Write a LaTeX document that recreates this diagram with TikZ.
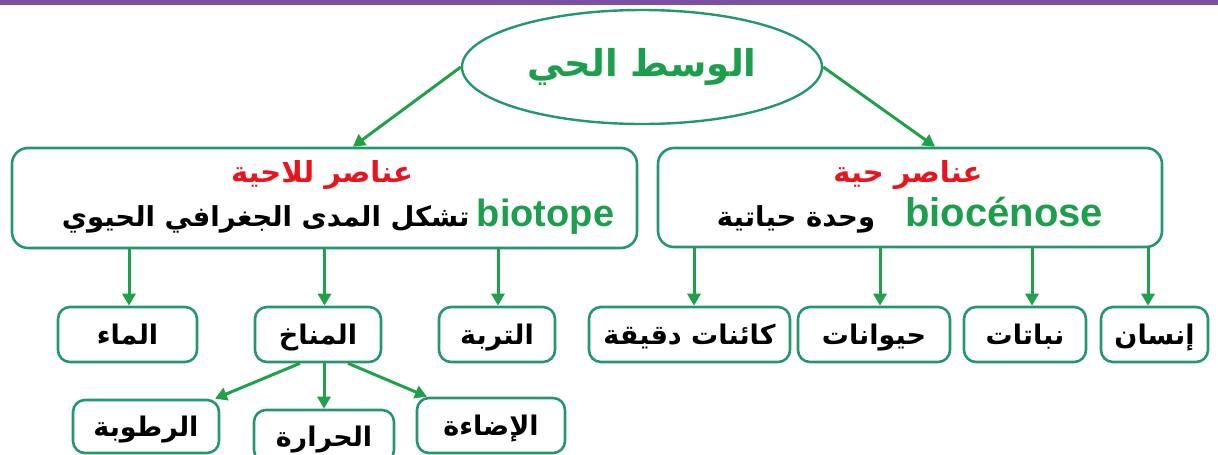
\documentclass[tikz,border=0pt]{standalone}
\usepackage{fontspec}
\setmainfont{Liberation Sans}
\newfontfamily\arfont[Script=Arabic]{DejaVu Sans}
\TeXXeTstate=1
\usetikzlibrary{arrows.meta,shapes.geometric}
\definecolor{tgreen}{RGB}{28,158,76}
\definecolor{tred}{RGB}{232,20,30}
\definecolor{bordc}{RGB}{36,152,108}
\definecolor{arrc}{RGB}{32,160,72}
\definecolor{barc}{RGB}{123,80,160}
\newcommand{\AR}[1]{{\arfont\bfseries\beginR#1\endR}}
\begin{document}
\begin{tikzpicture}[x=1pt,y=-1pt,
  box/.style={draw=bordc, line width=2.6pt, rounded corners=12pt, minimum height=55pt, inner sep=0pt,
              text height=22pt, text depth=2pt, font=\fontsize{27}{29}\selectfont},
  bigbox/.style={draw=bordc, line width=2.6pt, rounded corners=16pt, inner sep=0pt},
  arr/.style={draw=arrc, line width=3pt, -{Triangle[length=12pt,width=13pt]}},
  redlbl/.style={anchor=base, text=tred, inner sep=0pt, font=\fontsize{29}{31}\selectfont},
  blklbl/.style={anchor=base, text=black, inner sep=0pt, font=\fontsize{27.5}{29}\selectfont}
]
\useasboundingbox (0,0) rectangle (1218,455);
\fill[barc] (0,0) rectangle (1218,5);

% root
\node[ellipse, draw=bordc, line width=2.4pt, minimum width=360pt, minimum height=114pt, inner sep=0pt,
      text=tgreen, font=\fontsize{37}{40}\selectfont] (root) at (642,67) {\AR{الوسط الحي}};

% big boxes
\node[bigbox, minimum width=625pt, minimum height=100pt] (abio) at (324.5,198) {};
\node[bigbox, minimum width=504pt, minimum height=99pt] (bio) at (910,197.5) {};
\node[redlbl] (abioT) at (322,182) {\AR{عناصر للاحية}};
\node[blklbl] (abioD) at (338,226) {\AR{تشكل المدى الجغرافي الحيوي}\ {\color{tgreen}\bfseries\fontsize{38}{40}\selectfont biotope}};
\node[redlbl] (bioT) at (908,182) {\AR{عناصر حية}};
\node[blklbl] (bioD) at (910,226) {\AR{وحدة حياتية}\hspace{30pt}{\color{tgreen}\bfseries\fontsize{40}{42}\selectfont biocénose}};

\draw[arr] (root.west) -- ([xshift=28.5pt]abio.north);
\draw[arr] (root.east) -- ([xshift=25pt]bio.north);

% second row
\node[box, minimum width=139pt] (water) at (127.5,334.5) {\AR{الماء}};
\node[box, minimum width=126pt] (clim) at (318,334.5) {\AR{المناخ}};
\node[box, minimum width=116pt] (soil) at (497,334.5) {\AR{التربة}};
\node[box, minimum width=201pt] (micro) at (689.5,334.5) {\AR{كائنات دقيقة}};
\node[box, minimum width=152pt] (anim) at (874,334.5) {\AR{حيوانات}};
\node[box, minimum width=122pt] (plant) at (1025,334.5) {\AR{نباتات}};
\node[box, minimum width=107pt] (human) at (1154.5,334.5) {\AR{إنسان}};

\path ([xshift=1.5pt]water.north) coordinate (waterIn);
\path ([xshift=6.5pt]clim.north) coordinate (climIn);
\path ([xshift=1pt]soil.north) coordinate (soilIn);
\path ([xshift=4.5pt]micro.north) coordinate (microIn);
\path ([xshift=6pt]anim.north) coordinate (animIn);
\path ([xshift=7pt]plant.north) coordinate (plantIn);
\path ([xshift=-6.5pt]human.north) coordinate (humanIn);

\draw[arr] (waterIn |- abio.south) -- (waterIn);
\draw[arr] (climIn |- abio.south) -- (climIn);
\draw[arr] (soilIn |- abio.south) -- (soilIn);
\draw[arr] (microIn |- bio.south) -- (microIn);
\draw[arr] (animIn |- bio.south) -- (animIn);
\draw[arr] (plantIn |- bio.south) -- (plantIn);
\draw[arr] (humanIn |- bio.south) -- (humanIn);

% third row
\node[box, minimum width=146pt, minimum height=53pt] (hum) at (146,426.5) {\AR{الرطوبة}};
\node[box, minimum width=140pt, minimum height=52pt] (heat) at (324,436) {\AR{الحرارة}};
\node[box, minimum width=148pt, minimum height=55pt] (light) at (491,425.5) {\AR{الإضاءة}};

\draw[arr] ([xshift=-18pt]clim.south) -- ([xshift=69pt]hum.north);
\draw[arr] ([xshift=6pt]clim.south) -- (heat.north);
\draw[arr] ([xshift=30pt]clim.south) -- ([xshift=-64pt]light.north);
\end{tikzpicture}
\end{document}
